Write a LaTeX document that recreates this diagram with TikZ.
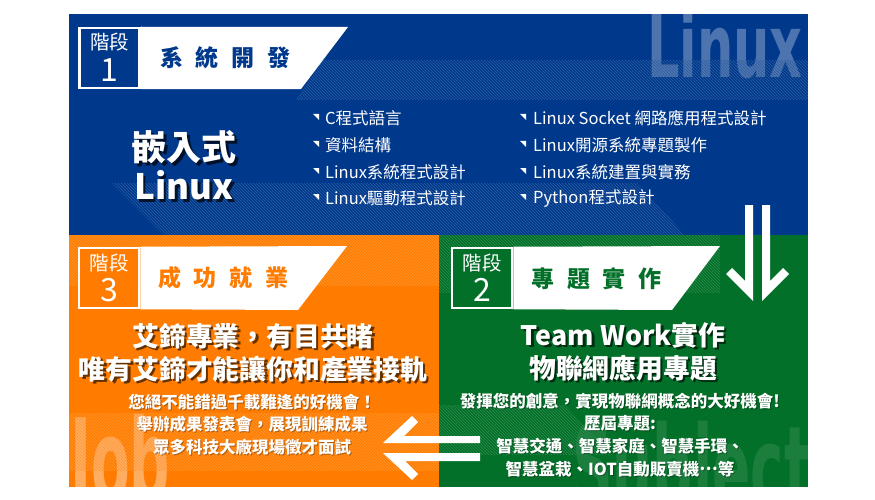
\documentclass[tikz,border=0pt]{standalone}
\usepackage{fontspec}
\setmainfont{Noto Sans CJK TC}
\newfontfamily\wmfont{DejaVu Sans}
\usetikzlibrary{patterns}
\definecolor{pBlue}{RGB}{0,57,140}
\definecolor{pOrange}{RGB}{255,124,0}
\definecolor{pGreen}{RGB}{2,112,40}
\newcommand{\bgap}{\hspace{13pt}}
\newcommand{\middots}{\raisebox{0.3em}{…}}
\tikzset{
    stagebox/.style={draw=white, line width=2.5pt, minimum width=60pt, minimum height=60pt, inner sep=0pt},
    stagetxt/.style={text=white, inner sep=0pt, font=\fontsize{19.5}{19.5}\selectfont},
    stagenum/.style={text=white, inner sep=0pt, font=\fontsize{32}{32}\selectfont},
    bannertxt/.style={inner sep=0pt, font=\bfseries\fontsize{23}{23}\selectfont},
    item/.style={anchor=west, text=white, inner sep=0pt, font=\fontsize{16.5}{16.5}\selectfont},
    bigtxt/.style={text=white, inner sep=0pt, align=center, font=\bfseries\fontsize{26.8}{33}\selectfont},
    bigshade/.style={bigtxt, text=black, text opacity=0.6},
    smalltxt/.style={text=white, inner sep=0pt, align=center, font=\bfseries\fontsize{16.5}{22.7}\selectfont},
    smallshade/.style={smalltxt, text=black, text opacity=0.3},
    hatch/.style={pattern=north west lines, pattern color=#1},
    wm/.style={inner sep=0pt, anchor=base west, text=white}
}

\begin{document}
\begin{tikzpicture}[x=1pt,y=-1pt]
\useasboundingbox (0,0) rectangle (875,500);
% panels
\fill[pBlue] (69,14) rectangle (808,235);
\fill[pOrange] (69,235) rectangle (439,487);
\fill[pGreen] (439,235) rectangle (808,487);
% watermarks
\begin{scope}
\clip (69,14) rectangle (808,235);
\node[wm, text opacity=0.3] (wmLinux) at (647,78) {\wmfont\bfseries\fontsize{88}{88}\selectfont\scalebox{0.58}[1]{Linux}};
\end{scope}
\begin{scope}
\clip (69,235) rectangle (439,487);
\node[wm, text opacity=0.38] (wmJob) at (70,501) {\wmfont\bfseries\fontsize{115}{115}\selectfont\scalebox{0.49}[1]{Job}};
\end{scope}
\begin{scope}
\clip (439,235) rectangle (808,487);
\node[wm, text opacity=0.1] (wmSubject) at (572,508) {\wmfont\bfseries\fontsize{115}{115}\selectfont\scalebox{0.49}[1]{Subject}};
\end{scope}
% hatched bands
\fill[hatch=pBlue!82!white] (323,60) -- (808,60) -- (808,100) -- (296,100) -- cycle;
\fill[hatch=pBlue!82!white] (112,183) -- (637,183) -- (685,235) -- (164,235) -- cycle;
\fill[hatch=pOrange!80!white] (69,235) rectangle (439,285);
\fill[hatch=pOrange!80!white] (69,413) rectangle (439,470);
\fill[hatch=pGreen!82!white] (439,235) rectangle (720,292);
\fill[hatch=pGreen!82!white] (439,405) -- (565,405) -- (612,455) -- (439,455) -- cycle;

% stage 1
\node[stagebox, fill=pBlue] (s1box) at (109.5,58) {};
\fill[white] (s1box.north east) -- (348,27) -- (301,89) -- (s1box.south east) -- cycle;
\node[stagetxt] (s1lbl) at (109.5,42) {階段};
\node[stagenum] (s1num) at (109.5,70) {1};
\node[bannertxt, text=pBlue] (s1ban) at (225.5,58) {系\bgap 統\bgap 開\bgap 發};

% stage 3
\node[stagebox, fill=pOrange] (s3box) at (109,278) {};
\fill[white] (s3box.north east) -- (347,246) -- (298,310) -- (s3box.south east) -- cycle;
\node[stagetxt] (s3lbl) at (109,263) {階段};
\node[stagenum] (s3num) at (109,290) {3};
\node[bannertxt, text=pOrange] (s3ban) at (223.5,278) {成\bgap 功\bgap 就\bgap 業};

% stage 2
\node[stagebox, fill=pGreen] (s2box) at (482,278) {};
\fill[white] (s2box.north east) -- (720,246) -- (672,310) -- (s2box.south east) -- cycle;
\node[stagetxt] (s2lbl) at (482,263) {階段};
\node[stagenum] (s2num) at (482,290) {2};
\node[bannertxt, text=pGreen] (s2ban) at (596.5,279) {專\bgap 題\bgap 實\bgap 作};

% embedded linux
\node[bigtxt, font=\bfseries\fontsize{35}{39}\selectfont, text=black, text opacity=0.7] (embS) at (186.5,168) {嵌入式\\Linux};
\node[bigtxt, font=\bfseries\fontsize{35}{39}\selectfont] (emb) at (184,165.5) {嵌入式\\Linux};

% course list
\foreach \y in {118,145,172,198} {
    \fill[white] (313,\y-4) -- (319,\y-4) -- (319,\y+2) -- cycle;
    \fill[white] (520,\y-4) -- (526,\y-4) -- (526,\y+2) -- cycle;
}
\node[item] (c1) at (325,118) {C程式語言};
\node[item] (c2) at (325,145) {資料結構};
\node[item] (c3) at (325,172) {Linux系統程式設計};
\node[item] (c4) at (325,198) {Linux驅動程式設計};
\node[item] (c5) at (533,118) {Linux Socket 網路應用程式設計};
\node[item] (c6) at (533,145) {Linux開源系統專題製作};
\node[item] (c7) at (533,172) {Linux系統建置與實務};
\node[item] (c8) at (533,198) {Python程式設計};

% stage 3 text
\node[bigshade] (job1S) at (255.5,355) {艾鍗專業，有目共睹\\唯有艾鍗才能讓你和產業接軌};
\node[bigtxt] (job1) at (253,352.5) {艾鍗專業，有目共睹\\唯有艾鍗才能讓你和產業接軌};
\node[smallshade] (job2S) at (253,425.5) {您絕不能錯過千載難逢的好機會！\\舉辦成果發表會，展現訓練成果\\眾多科技大廠現場徵才面試};
\node[smalltxt] (job2) at (252,424.5) {您絕不能錯過千載難逢的好機會！\\舉辦成果發表會，展現訓練成果\\眾多科技大廠現場徵才面試};

% stage 2 text
\node[bigshade] (prj1S) at (625.5,354) {Team Work實作\\物聯網應用專題};
\node[bigtxt] (prj1) at (623,351.5) {Team Work實作\\物聯網應用專題};
\node[smallshade] (prj2S) at (621,436) {發揮您的創意，實現物聯網概念的大好機會!\\歷屆專題:\\智慧交通、智慧家庭、智慧手環、\\智慧盆栽、IOT自動販賣機\middots 等};
\node[smalltxt] (prj2) at (620,435) {發揮您的創意，實現物聯網概念的大好機會!\\歷屆專題:\\智慧交通、智慧家庭、智慧手環、\\智慧盆栽、IOT自動販賣機\middots 等};

% arrows
\fill[white] (745,205) -- (753,205) -- (753,301) -- (726,274) -- (732,268) -- (745,281) -- cycle;
\fill[white] (770,205) -- (762,205) -- (762,301) -- (789,274) -- (783,268) -- (770,281) -- cycle;
\fill[white] (480,436) -- (480,443) -- (383,443) -- (412,416) -- (418,422) -- (404,436) -- cycle;
\fill[white] (480,461) -- (480,453) -- (383,453) -- (412,480) -- (418,474) -- (405,461) -- cycle;
\end{tikzpicture}
\end{document}
